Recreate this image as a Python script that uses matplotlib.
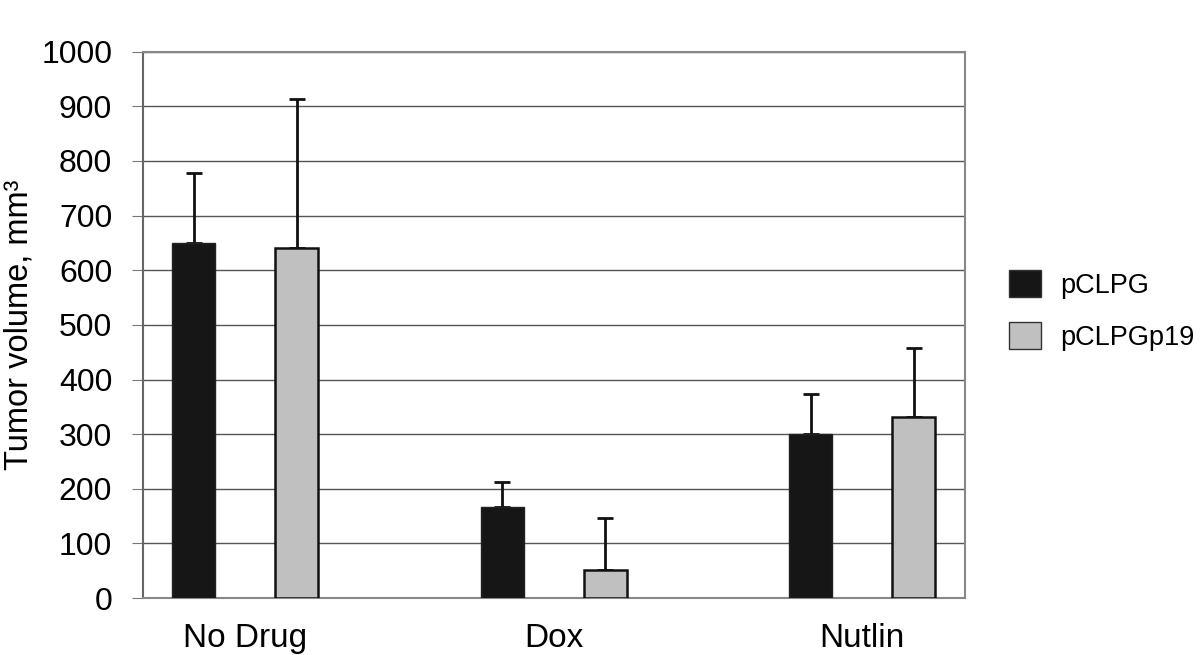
import numpy as np
from matplotlib import pyplot as plt
from matplotlib.patches import Patch

plt.rcParams['font.family'] = ['Liberation Sans', 'DejaVu Sans']

groups = ['No Drug', 'Dox', 'Nutlin']
series_names = ['pCLPG', 'pCLPGp19']
pclpg = [649, 167, 300]
pclpg_err = [129, 46, 74]
pclpgp19 = [640, 51, 332]
pclpgp19_err = [273, 96, 125]

colors = ['#161616', '#c0c0c0']

fig = plt.figure(figsize=(12, 6.55), dpi=100)
ax = fig.add_axes([0.119, 0.087, 0.685, 0.834])

x = np.arange(len(groups))
w = 0.139
off = 0.167
ax.bar(x - off, pclpg, w, color=colors[0], edgecolor='#222222', linewidth=1, zorder=3)
ax.bar(x + off, pclpgp19, w, color=colors[1], edgecolor='#111111', linewidth=1.8, zorder=3)
ax.errorbar(x - off, pclpg, yerr=[np.zeros(3), pclpg_err], fmt='none', ecolor='#111111',
            elinewidth=2, capsize=6, capthick=2, zorder=2)
ax.errorbar(x + off, pclpgp19, yerr=[np.zeros(3), pclpgp19_err], fmt='none', ecolor='#111111',
            elinewidth=2, capsize=6, capthick=2, zorder=2)

ax.set_xlim(-0.332, 2.332)
ax.set_ylim(0, 1000)
ax.set_yticks(range(0, 1001, 100))
ax.yaxis.grid(True, color='#555555', linewidth=1)
ax.set_axisbelow(True)
ax.tick_params(axis='y', labelsize=23, length=8, color='#777777', pad=14)
ax.set_xticks(x)
ax.set_xticklabels(groups)
ax.tick_params(axis='x', labelsize=24, length=0, pad=18)
for s in ax.spines.values():
    s.set_color('#888888')
    s.set_linewidth(1.5)
ax.spines['left'].set_color('#666666')
ax.set_ylabel('Tumor volume, mm³', fontsize=23.5, labelpad=5)

handles = [Patch(facecolor=colors[0], edgecolor='#333333'),
           Patch(facecolor=colors[1], edgecolor='#333333')]
fig.legend(handles, series_names, loc='center left', bbox_to_anchor=(0.841, 0.526),
           frameon=False, fontsize=19.5, handlelength=1.18, handleheight=1.15,
           labelspacing=0.85, handletextpad=0.7, borderpad=0, borderaxespad=0)

fig.savefig('out.png', dpi=100)
